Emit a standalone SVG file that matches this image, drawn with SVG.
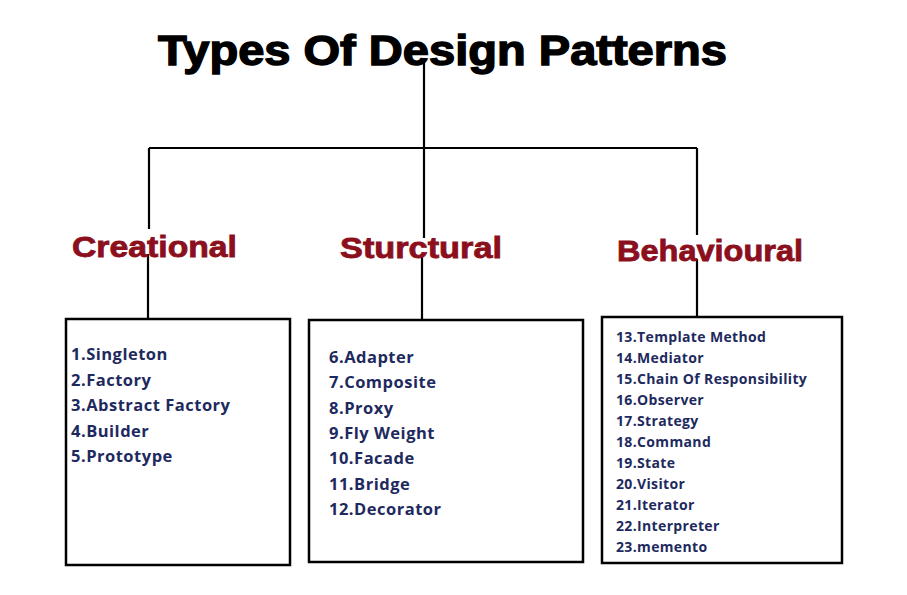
<svg xmlns="http://www.w3.org/2000/svg" width="907" height="595" viewBox="0 0 907 595">
<style>
.title{font-family:"Liberation Sans",Arial,sans-serif;font-weight:bold;font-size:42px;fill:#000;stroke:#000;stroke-width:1.4}
.cat{font-family:"Liberation Sans",Arial,sans-serif;font-weight:bold;font-size:29px;fill:#8b0f1c;stroke:#8b0f1c;stroke-width:0.8}
.item{font-family:"Open Sans","Liberation Sans",sans-serif;font-weight:bold;font-size:16.5px;letter-spacing:0.5px;fill:#1e2a5e}
.small{font-size:14px;letter-spacing:0.35px}
.box{fill:#fff;stroke:#000;stroke-width:2.5}
.conn{stroke:#000;stroke-width:2.2;fill:none}
</style>
<rect width="907" height="595" fill="#fff"/>
<g id="connectors">
<path class="conn" d="M424 62 V148 M149 148 H697 M149 148 V229 M424 148 V238 M697 148 V235"/>
<path class="conn" d="M148 254 V319 M422 256 V320 M697 259 V317"/>
</g>
<g id="title"><text class="title" x="158" y="65" textLength="569" lengthAdjust="spacingAndGlyphs">Types Of Design Patterns</text></g>
<g id="creational">
<text class="cat" x="72" y="257" textLength="165" lengthAdjust="spacingAndGlyphs">Creational</text>
<rect class="box" x="66" y="319" width="224" height="246"/>
<text class="item" x="71" y="360">1.Singleton</text>
<text class="item" x="71" y="385.5">2.Factory</text>
<text class="item" x="71" y="411">3.Abstract Factory</text>
<text class="item" x="71" y="436.5">4.Builder</text>
<text class="item" x="71" y="462">5.Prototype</text>
</g>
<g id="structural">
<text class="cat" x="340" y="258" textLength="162" lengthAdjust="spacingAndGlyphs">Sturctural</text>
<rect class="box" x="309" y="320" width="274" height="242"/>
<text class="item" x="329" y="363">6.Adapter</text>
<text class="item" x="329" y="388.3">7.Composite</text>
<text class="item" x="329" y="413.6">8.Proxy</text>
<text class="item" x="329" y="438.9">9.Fly Weight</text>
<text class="item" x="329" y="464.2">10.Facade</text>
<text class="item" x="329" y="489.5">11.Bridge</text>
<text class="item" x="329" y="514.8">12.Decorator</text>
</g>
<g id="behavioural">
<text class="cat" x="617" y="261" textLength="186" lengthAdjust="spacingAndGlyphs">Behavioural</text>
<rect class="box" x="602" y="317" width="240" height="246"/>
<text class="item small" x="616" y="342">13.Template Method</text>
<text class="item small" x="616" y="363">14.Mediator</text>
<text class="item small" x="616" y="384">15.Chain Of Responsibility</text>
<text class="item small" x="616" y="405">16.Observer</text>
<text class="item small" x="616" y="426">17.Strategy</text>
<text class="item small" x="616" y="447">18.Command</text>
<text class="item small" x="616" y="468">19.State</text>
<text class="item small" x="616" y="489">20.Visitor</text>
<text class="item small" x="616" y="510">21.Iterator</text>
<text class="item small" x="616" y="531">22.Interpreter</text>
<text class="item small" x="616" y="552">23.memento</text>
</g>
</svg>
